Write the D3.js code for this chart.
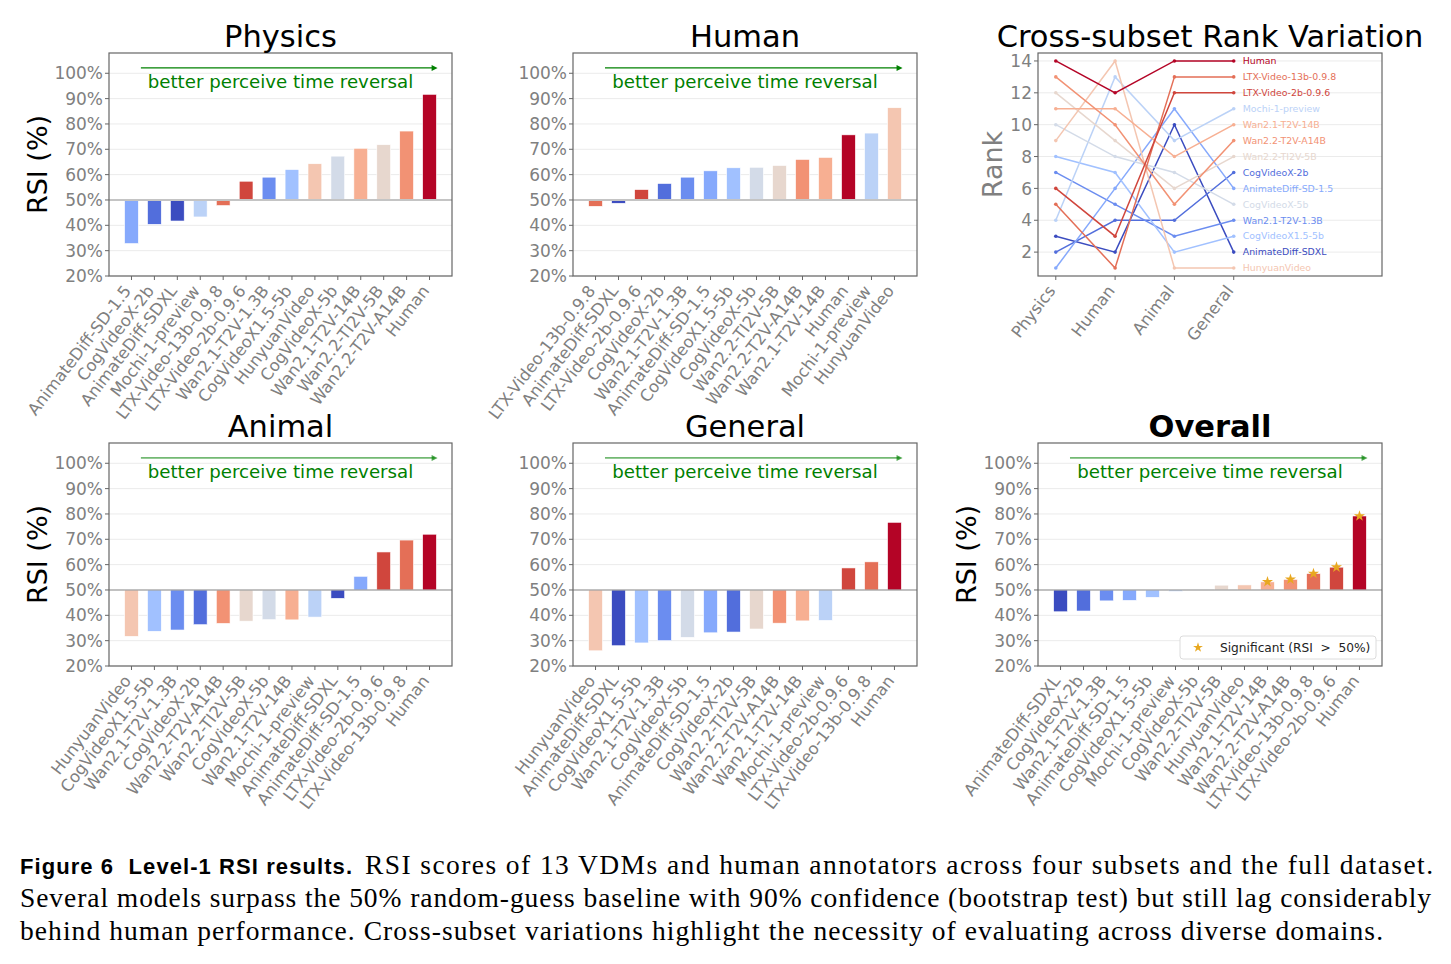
<!DOCTYPE html>
<html>
<head>
<meta charset="utf-8">
<script src="https://cdn.jsdelivr.net/npm/d3@7"></script>
<style>
    body { margin: 0; background: #fff; }
    svg text { font-family: "DejaVu Sans", sans-serif; }
</style>
</head>
<body>
<svg id="fig" width="1451" height="964"></svg>
<script>
    // models in overall RSI order, this order also picks the coolwarm colour
    const models = ["AnimateDiff-SDXL", "CogVideoX-2b", "Wan2.1-T2V-1.3B", "AnimateDiff-SD-1.5", "CogVideoX1.5-5b",
        "Mochi-1-preview", "CogVideoX-5b", "Wan2.2-TI2V-5B", "HunyuanVideo", "Wan2.1-T2V-14B", "Wan2.2-T2V-A14B",
        "LTX-Video-13b-0.9.8", "LTX-Video-2b-0.9.6", "Human"]
    const overallRSI = [41.4, 41.7, 45.7, 45.9, 47.1, 49.4, 50.0, 51.9, 52.0, 53.2, 54.2, 56.5, 59.0, 79.2]
    const overallSignificant = [false, false, false, false, false, false, false, false, false, true, true, true, true, true]

    const physicsModels = ["AnimateDiff-SD-1.5", "CogVideoX-2b", "AnimateDiff-SDXL", "Mochi-1-preview", "LTX-Video-13b-0.9.8",
        "LTX-Video-2b-0.9.6", "Wan2.1-T2V-1.3B", "CogVideoX1.5-5b", "HunyuanVideo", "CogVideoX-5b", "Wan2.1-T2V-14B",
        "Wan2.2-TI2V-5B", "Wan2.2-T2V-A14B", "Human"]
    const physicsRSI = [32.8, 40.4, 41.7, 43.3, 47.8, 57.4, 59.0, 62.0, 64.3, 67.3, 70.4, 71.8, 77.2, 91.7]

    const humanModels = ["LTX-Video-13b-0.9.8", "AnimateDiff-SDXL", "LTX-Video-2b-0.9.6", "CogVideoX-2b", "Wan2.1-T2V-1.3B",
        "AnimateDiff-SD-1.5", "CogVideoX1.5-5b", "CogVideoX-5b", "Wan2.2-TI2V-5B", "Wan2.2-T2V-A14B", "Wan2.1-T2V-14B",
        "Human", "Mochi-1-preview", "HunyuanVideo"]
    const humanRSI = [47.5, 48.7, 54.1, 56.5, 59.0, 61.5, 62.7, 62.9, 63.6, 66.0, 66.8, 75.7, 76.4, 86.4]

    const animalModels = ["HunyuanVideo", "CogVideoX1.5-5b", "Wan2.1-T2V-1.3B", "CogVideoX-2b", "Wan2.2-T2V-A14B",
        "Wan2.2-TI2V-5B", "CogVideoX-5b", "Wan2.1-T2V-14B", "Mochi-1-preview", "AnimateDiff-SDXL", "AnimateDiff-SD-1.5",
        "LTX-Video-2b-0.9.6", "LTX-Video-13b-0.9.8", "Human"]
    const animalRSI = [31.7, 33.7, 34.2, 36.3, 36.8, 37.7, 38.3, 38.2, 39.3, 46.7, 55.4, 65.0, 69.7, 72.0]

    const generalModels = ["HunyuanVideo", "AnimateDiff-SDXL", "CogVideoX1.5-5b", "Wan2.1-T2V-1.3B", "CogVideoX-5b",
        "AnimateDiff-SD-1.5", "CogVideoX-2b", "Wan2.2-TI2V-5B", "Wan2.2-T2V-A14B", "Wan2.1-T2V-14B", "Mochi-1-preview",
        "LTX-Video-2b-0.9.6", "LTX-Video-13b-0.9.8", "Human"]
    const generalRSI = [26.0, 28.0, 29.1, 30.0, 31.3, 33.1, 33.4, 34.6, 36.9, 37.8, 38.0, 58.7, 61.1, 76.7]

    const subsetNames = ["Physics", "Human", "Animal", "General"]
    const subsetModels = [physicsModels, humanModels, animalModels, generalModels]
    const yTicks = [20, 30, 40, 50, 60, 70, 80, 90, 100]
    const rankTicks = [2, 4, 6, 8, 10, 12, 14]

    // matplotlib coolwarm anchor table
    const coolwarmStops = ["#3b4cc0", "#445acc", "#4d68d7", "#5775e1", "#6282ea", "#6c8ef1", "#779af7", "#82a5fb",
        "#8db0fe", "#98b9ff", "#a3c2ff", "#aec9fd", "#b8d0f9", "#c2d5f4", "#ccd9ee", "#d5dbe6", "#dddddd",
        "#e5d8d1", "#ecd3c5", "#f1ccb9", "#f5c4ad", "#f7bba0", "#f7b194", "#f7a687", "#f49a7b", "#f18d6f",
        "#ec7f63", "#e57058", "#de604d", "#d55042", "#cb3e38", "#c0282f", "#b40426"]
    const coolwarm = d3.scaleLinear()
        .domain(d3.range(coolwarmStops.length).map(i => i / (coolwarmStops.length - 1)))
        .range(coolwarmStops)
        .interpolate(d3.interpolateRgb)
    const colorOf = name => coolwarm(models.indexOf(name) / (models.length - 1))

    const svg = d3.select("#fig")
    const gray = "#808080"
    const spine = "#666"
    const labelAngle = -52.5
    const labelSize = 16.4

    const cols = [{ x: 109, w: 343 }, { x: 573, w: 344 }, { x: 1038, w: 344 }]
    const rows = [{ y: 53, h: 223 }, { y: 443, h: 223 }]

    const drawBars = (col, row, title, names, values, opts) => {
        const x0 = col.x, w = col.w, y0 = row.y, h = row.h
        const g = svg.append("g")
        const x = d3.scaleBand().domain(names).range([x0, x0 + w]).paddingInner(0.4).paddingOuter(0.68)
        const y = d3.scaleLinear().domain([20, 108]).range([y0 + h, y0])

        // grid
        g.selectAll(".grid").data(yTicks).enter().append("line")
            .attr("x1", x0).attr("x2", x0 + w)
            .attr("y1", d => y(d)).attr("y2", d => y(d))
            .attr("stroke", "#ebebeb").attr("stroke-width", 1)

        g.selectAll(".bar").data(names).enter().append("rect")
            .attr("x", d => x(d))
            .attr("width", x.bandwidth())
            .attr("y", (d, i) => y(Math.max(values[i], 50)))
            .attr("height", (d, i) => Math.abs(y(values[i]) - y(50)))
            .attr("fill", d => colorOf(d))
            .attr("stroke", "white").attr("stroke-width", 0.6)

        // 50% baseline
        g.append("line")
            .attr("x1", x0).attr("x2", x0 + w)
            .attr("y1", y(50)).attr("y2", y(50))
            .attr("stroke", opts.top ? "#c4c4c4" : "#8c8c8c")
            .attr("stroke-width", opts.top ? 2 : 1.2)

        if (opts.significant) {
            g.selectAll(".star").data(names.filter((d, i) => opts.significant[i])).enter().append("path")
                .attr("d", d3.symbol().type(d3.symbolStar).size(38))
                .attr("transform", d => "translate(" + (x(d) + x.bandwidth() / 2) + "," + y(values[names.indexOf(d)]) + ")")
                .attr("fill", "#e8a820")

            const lg = g.append("g")
            lg.append("rect")
                .attr("x", x0 + 142).attr("y", y0 + h - 30)
                .attr("width", 196).attr("height", 23).attr("rx", 3)
                .attr("fill", "white").attr("stroke", "#dcdcdc")
            lg.append("path")
                .attr("d", d3.symbol().type(d3.symbolStar).size(30))
                .attr("transform", "translate(" + (x0 + 160) + "," + (y0 + h - 18.5) + ")")
                .attr("fill", "#e8a820")
            lg.append("text")
                .attr("x", x0 + 182).attr("y", y0 + h - 18.5).attr("dy", "0.35em")
                .attr("font-size", 12.2).attr("fill", "#222")
                .attr("xml:space", "preserve")
                .text("Significant (RSI  >  50%)")
        }

        // frame
        g.append("rect").attr("x", x0).attr("y", y0).attr("width", w).attr("height", h)
            .attr("fill", "none").attr("stroke", spine).attr("stroke-width", 1.2)

        // y ticks
        g.selectAll(".ytick").data(yTicks).enter().append("line")
            .attr("x1", x0 - 4).attr("x2", x0)
            .attr("y1", d => y(d)).attr("y2", d => y(d))
            .attr("stroke", spine)
        g.selectAll(".ylab").data(yTicks).enter().append("text")
            .attr("x", x0 - 6).attr("y", d => y(d)).attr("dy", "0.36em")
            .attr("text-anchor", "end").attr("font-size", 17).attr("fill", gray)
            .text(d => d + "%")

        // x ticks and rotated labels
        g.selectAll(".xtick").data(names).enter().append("line")
            .attr("x1", d => x(d) + x.bandwidth() / 2).attr("x2", d => x(d) + x.bandwidth() / 2)
            .attr("y1", y0 + h).attr("y2", y0 + h + 4)
            .attr("stroke", spine)
        g.selectAll(".xlab").data(names).enter().append("text")
            .attr("text-anchor", "end").attr("font-size", labelSize).attr("fill", gray)
            .attr("transform", d => "translate(" + (x(d) + x.bandwidth() / 2 + 0.5) + "," + (y0 + h + 15) + ") rotate(" + labelAngle + ")")
            .text(d => d)

        // arrow + hint text
        const ay = y0 + 0.067 * h
        const ax1 = x0 + 0.093 * w, ax2 = x0 + 0.958 * w
        g.append("line").attr("x1", ax1).attr("x2", ax2 - 3).attr("y1", ay).attr("y2", ay)
            .attr("stroke", "green").attr("stroke-width", opts.top ? 1.3 : 1.8)
            .attr("stroke-opacity", opts.top ? 1 : 0.55)
        g.append("path")
            .attr("d", "M" + ax2 + "," + ay + "l-6,-3l0,6z")
            .attr("fill", "green").attr("fill-opacity", opts.top ? 1 : 0.7)
        g.append("text")
            .attr("x", x0 + w / 2).attr("y", y0 + 0.157 * h)
            .attr("text-anchor", "middle").attr("font-size", 18.2).attr("fill", "green")
            .text("better perceive time reversal")

        // title + ylabel
        g.append("text")
            .attr("x", x0 + w / 2).attr("y", y0 - 6)
            .attr("text-anchor", "middle").attr("font-size", 30.5)
            .attr("font-weight", opts.bold ? "bold" : "normal").attr("fill", "black")
            .text(title)
        if (opts.ylabel) {
            g.append("text")
                .attr("transform", "translate(" + (x0 - 62) + "," + (y0 + h / 2) + ") rotate(-90)")
                .attr("text-anchor", "middle").attr("font-size", 27).attr("fill", "black")
                .text("RSI (%)")
        }
    }

    drawBars(cols[0], rows[0], "Physics", physicsModels, physicsRSI, { top: true, ylabel: true })
    drawBars(cols[1], rows[0], "Human", humanModels, humanRSI, { top: true })
    drawBars(cols[0], rows[1], "Animal", animalModels, animalRSI, { ylabel: true })
    drawBars(cols[1], rows[1], "General", generalModels, generalRSI, {})
    drawBars(cols[2], rows[1], "Overall", models, overallRSI, { ylabel: true, bold: true, significant: overallSignificant })

    // rank variation panel
    const drawRanks = (col, row) => {
        const x0 = col.x, w = col.w, y0 = row.y, h = row.h
        const g = svg.append("g")
        const x = d3.scaleLinear().domain([-0.3, 5.5]).range([x0, x0 + w])
        const y = d3.scaleLinear().domain([0.5, 14.5]).range([y0 + h, y0])
        const rankOf = (m, s) => subsetModels[s].indexOf(m) + 1

        g.selectAll(".grid").data(rankTicks).enter().append("line")
            .attr("x1", x0).attr("x2", x0 + w)
            .attr("y1", d => y(d)).attr("y2", d => y(d))
            .attr("stroke", "#ebebeb")

        const line = d3.line().x((d, i) => x(i)).y(d => y(d))
        models.forEach(m => {
            const ranks = subsetNames.map((s, i) => rankOf(m, i))
            g.append("path").attr("d", line(ranks))
                .attr("fill", "none").attr("stroke", colorOf(m)).attr("stroke-width", 1.5)
            g.selectAll(null).data(ranks).enter().append("circle")
                .attr("cx", (d, i) => x(i)).attr("cy", d => y(d)).attr("r", 1.8)
                .attr("fill", colorOf(m))
            g.append("text")
                .attr("x", x(3) + 9).attr("y", y(ranks[3])).attr("dy", "0.35em")
                .attr("font-size", 9.4).attr("fill", colorOf(m))
                .text(m)
        })

        g.append("rect").attr("x", x0).attr("y", y0).attr("width", w).attr("height", h)
            .attr("fill", "none").attr("stroke", spine).attr("stroke-width", 1.2)

        g.selectAll(".ytick").data(rankTicks).enter().append("line")
            .attr("x1", x0 - 4).attr("x2", x0).attr("y1", d => y(d)).attr("y2", d => y(d))
            .attr("stroke", spine)
        g.selectAll(".ylab").data(rankTicks).enter().append("text")
            .attr("x", x0 - 6).attr("y", d => y(d)).attr("dy", "0.36em")
            .attr("text-anchor", "end").attr("font-size", 17).attr("fill", gray)
            .text(d => d)

        g.selectAll(".xtick").data(subsetNames).enter().append("line")
            .attr("x1", (d, i) => x(i)).attr("x2", (d, i) => x(i))
            .attr("y1", y0 + h).attr("y2", y0 + h + 4).attr("stroke", spine)
        g.selectAll(".xlab").data(subsetNames).enter().append("text")
            .attr("text-anchor", "end").attr("font-size", labelSize).attr("fill", gray)
            .attr("transform", (d, i) => "translate(" + (x(i) + 0.5) + "," + (y0 + h + 15) + ") rotate(" + labelAngle + ")")
            .text(d => d)

        g.append("text")
            .attr("x", x0 + w / 2).attr("y", y0 - 6)
            .attr("text-anchor", "middle").attr("font-size", 30.5).attr("fill", "black")
            .text("Cross-subset Rank Variation")
        g.append("text")
            .attr("transform", "translate(" + (x0 - 36) + "," + (y0 + h / 2) + ") rotate(-90)")
            .attr("text-anchor", "middle").attr("font-size", 27).attr("fill", gray)
            .text("Rank")
    }
    drawRanks(cols[2], rows[0])

    // caption
    const cap = svg.append("g")
    cap.append("text")
        .attr("x", 20).attr("y", 874)
        .attr("font-weight", "bold")
        .attr("font-size", 22).attr("textLength", 332).attr("lengthAdjust", "spacing")
        .attr("xml:space", "preserve")
        .style("font-family", "'Liberation Sans', sans-serif")
        .text("Figure 6  Level-1 RSI results.")
    const serifLines = [
        { x: 365, y: 874, len: 1068, t: "RSI scores of 13 VDMs and human annotators across four subsets and the full dataset." },
        { x: 20, y: 907, len: 1411, t: "Several models surpass the 50% random-guess baseline with 90% confidence (bootstrap test) but still lag considerably" },
        { x: 20, y: 940, len: 1363, t: "behind human performance. Cross-subset variations highlight the necessity of evaluating across diverse domains." }
    ]
    cap.selectAll(".cl").data(serifLines).enter().append("text")
        .attr("x", d => d.x).attr("y", d => d.y)
        .attr("font-size", 27.5)
        .attr("textLength", d => d.len).attr("lengthAdjust", "spacing")
        .style("font-family", "'Liberation Serif', serif")
        .text(d => d.t)
</script>
</body>
</html>
